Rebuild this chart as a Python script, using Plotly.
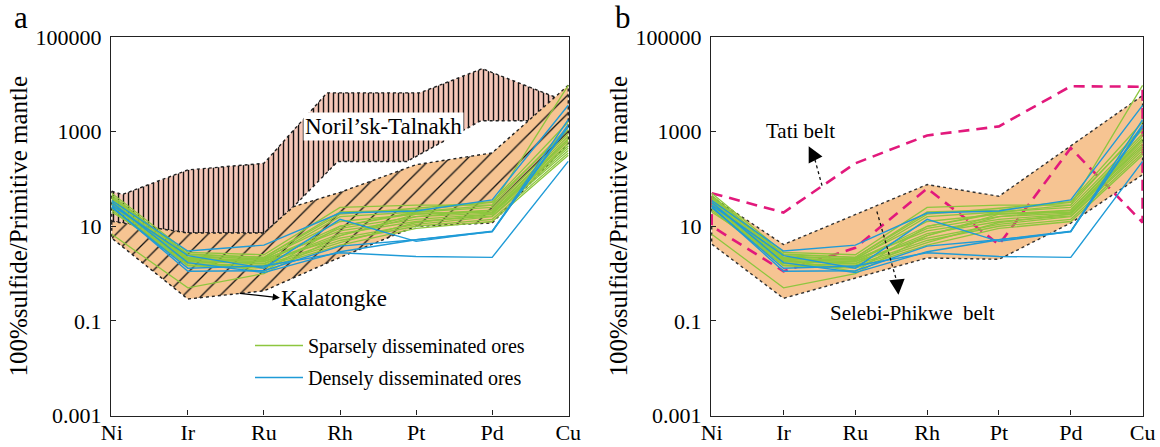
import math
import plotly.graph_objects as go

# ---------------- data ----------------
elements = ["Ni", "Ir", "Ru", "Rh", "Pt", "Pd", "Cu"]
elem_pos = [0, 1, 2, 3, 4, 5, 6]

# sparsely disseminated ores (100% sulfide / primitive mantle)
sparse_1 = [50, 2.8, 2.5, 25, 28, 28, 9500]
sparse_2 = [45, 2.5, 2.2, 20, 22, 32, 1100]
sparse_3 = [40, 2.4, 2.0, 16, 20, 25, 900]
sparse_4 = [38, 2.2, 2.1, 12.6, 18, 22, 700]
sparse_5 = [35, 2.1, 1.9, 10, 19, 20, 630]
sparse_6 = [33, 2.0, 1.8, 9, 16, 19, 560]
sparse_7 = [32, 2.0, 2.0, 8, 14, 18, 500]
sparse_8 = [30, 1.9, 1.65, 7, 12.6, 16.5, 450]
sparse_9 = [28, 1.8, 1.6, 6.3, 16, 22, 800]
sparse_10 = [27, 1.65, 1.8, 5.6, 11, 16, 400]
sparse_11 = [25, 1.6, 1.5, 5, 10, 14, 355]
sparse_12 = [24, 1.5, 1.4, 4.5, 12, 18, 700]
sparse_13 = [22, 1.45, 1.3, 4, 9, 12.6, 316]
sparse_14 = [20, 2.0, 1.1, 10, 20, 28, 1260]
sparse_15 = [6.8, 0.5, 1.0, 6.3, 18, 20, 500]
sparse_16 = [42, 2.6, 2.2, 18, 24, 33, 1600]
sparse_ores = [sparse_1, sparse_2, sparse_3, sparse_4, sparse_5, sparse_6, sparse_7, sparse_8,
               sparse_9, sparse_10, sparse_11, sparse_12, sparse_13, sparse_14, sparse_15, sparse_16]

# densely disseminated ores
dense_1 = [35, 3.0, 4.0, 19, 21, 36, 3600]
dense_2 = [28, 2.4, 1.3, 14, 4.8, 7.8, 1800]
dense_3 = [25, 1.3, 1.45, 2.75, 2.3, 2.2, 235]
dense_4 = [26, 1.12, 1.15, 3.8, 5.2, 7.9, 1260]
dense_5 = [32, 1.7, 1.05, 2.9, 5.2, 7.6, 1400]
dense_ores = [dense_1, dense_2, dense_3, dense_4, dense_5]

# reference fields (closed outlines; x = position along the element axis)
norilsk_x = [0, 0.14, 1, 2, 2.83, 4.05, 4.87, 5.92, 6, 6, 4.85, 3.88, 2.97, 2.39, 2, 1, 0, 0]
norilsk_y = [55, 47, 155, 214, 6600, 6600, 21400, 4700, 4700, 1700, 1700, 234, 234, 26, 7.2, 7.2, 12.7, 55]

kalatongke_x = [0, 1, 2, 2.39, 3, 4, 5, 6, 6, 5, 4, 3, 2, 1, 0, 0]
kalatongke_y = [12.7, 7.2, 7.2, 26, 52, 200, 355, 9500, 560, 11.7, 10, 2.2, 0.43, 0.29, 5.6, 12.7]

selebi_x = [0, 1, 3, 4, 5, 6, 6, 5, 4, 3, 1, 0, 0]
selebi_y = [42, 4.1, 76, 43, 500, 5800, 123, 11.7, 2.0, 2.14, 0.30, 4.2, 42]

tati_x = [0, 1, 2, 3, 4, 5, 6, 6, 5, 4, 3, 2, 1, 0, 0]
tati_y = [50, 19.5, 214, 830, 1290, 9100, 8900, 12, 450, 4.1, 63, 3.5, 1.12, 10, 50]

y_tickvals = [0.001, 0.1, 10, 1000, 100000]
y_ticktext = ["0.001", "0.1", "10", "1000", "100000"]

# annotation arrows (x position, value)
tati_arrow_tail = (1.536, 72)
tati_arrow_neck = (1.43, 280)
tati_arrow_tip = (1.35, 490)
selebi_arrow_tail = (2.30, 20.5)
selebi_arrow_neck = (2.585, 0.62)
selebi_arrow_tip = (2.60, 0.355)

# ---------------- styles ----------------
FONT = 'Times New Roman, "Liberation Serif", serif'
GREEN = "#8DC63F"
BLUE = "#1F9BD7"
MAGENTA = "#E2197C"
PINK = "#F6C8B9"
ORANGE = "#F6C492"

fig = go.Figure()


def add_field(x, y, xa, ya, bg, shape, size, solidity):
    fig.add_trace(go.Scatter(
        x=x, y=y, xaxis=xa, yaxis=ya, mode="lines", fill="toself",
        fillcolor=bg,
        fillpattern=dict(shape=shape, bgcolor=bg, fgcolor="#111", size=size,
                         solidity=solidity, fillmode="replace"),
        line=dict(color="#222", width=1.4, dash="dot"),
        hoverinfo="skip", showlegend=False))


# panel a fields
add_field(norilsk_x, norilsk_y, "x", "y", PINK, "|", 5, 0.28)
add_field(kalatongke_x, kalatongke_y, "x", "y", ORANGE, "/", 13, 0.1)

# panel b fields
fig.add_trace(go.Scatter(
    x=selebi_x, y=selebi_y, xaxis="x2", yaxis="y2", mode="lines", fill="toself",
    fillcolor=ORANGE, line=dict(color="#333", width=1.4, dash="dot"),
    hoverinfo="skip", showlegend=False))
fig.add_trace(go.Scatter(
    x=tati_x, y=tati_y, xaxis="x2", yaxis="y2", mode="lines",
    line=dict(color=MAGENTA, width=2.6, dash="11px,7px"),
    hoverinfo="skip", showlegend=False))

# sample lines in both panels
for xa, ya, leg in (("x", "y", True), ("x2", "y2", False)):
    for i, s in enumerate(sparse_ores):
        fig.add_trace(go.Scatter(
            x=elem_pos, y=s, xaxis=xa, yaxis=ya, mode="lines",
            line=dict(color=GREEN, width=1.3),
            name="Sparsely disseminated ores", legendgroup="sparse",
            showlegend=(leg and i == 0)))
    for i, s in enumerate(dense_ores):
        fig.add_trace(go.Scatter(
            x=elem_pos, y=s, xaxis=xa, yaxis=ya, mode="lines",
            line=dict(color=BLUE, width=1.4),
            name="Densely disseminated ores", legendgroup="dense",
            showlegend=(leg and i == 0)))

# dotted arrow shafts (panel b)
for tail, neck in ((tati_arrow_tail, tati_arrow_neck), (selebi_arrow_tail, selebi_arrow_neck)):
    fig.add_trace(go.Scatter(x=[tail[0], neck[0]], y=[tail[1], neck[1]], xaxis="x2", yaxis="y2",
                             mode="lines", line=dict(color="#111", width=1.3, dash="dot"),
                             hoverinfo="skip", showlegend=False))

axis_common = dict(showline=True, linecolor="#222", linewidth=1.3, mirror=True,
                   ticks="inside", ticklen=5, tickcolor="#222", tickwidth=1.1,
                   showgrid=False, zeroline=False, automargin=False)

xa_common = dict(axis_common, range=[-0.01, 6.01], tickvals=elem_pos, ticktext=elements,
                 tickfont=dict(family=FONT, size=22, color="black"), ticklabelstandoff=-3,
                 ticklabeloverflow="allow")
ya_common = dict(axis_common, type="log", range=[-3, 5], tickvals=y_tickvals,
                 ticktext=y_ticktext, tickfont=dict(family=FONT, size=22, color="black"),
                 ticklabelstandoff=4,
                 title=dict(text="100%sulfide/Primitive mantle",
                            font=dict(family=FONT, size=25, color="black"), standoff=0))

Y_DOM = [1 - 415.5 / 447, 1 - 37 / 447]
fig.update_layout(
    template="none",
    width=1160, height=447, margin=dict(l=0, r=0, t=0, b=0, pad=0, autoexpand=False),
    paper_bgcolor="white", plot_bgcolor="white",
    xaxis=dict(xa_common, domain=[111 / 1160, 569 / 1160], anchor="y"),
    yaxis=dict(ya_common, domain=Y_DOM, anchor="x"),
    xaxis2=dict(xa_common, domain=[711 / 1160, 1143.3 / 1160], anchor="y2"),
    yaxis2=dict(ya_common, domain=Y_DOM, anchor="x2"),
    showlegend=True,
    legend=dict(x=250 / 1160, y=1 - 326 / 447, xanchor="left", yanchor="top",
                bgcolor="rgba(0,0,0,0)", font=dict(family=FONT, size=20, color="black"),
                tracegroupgap=3, itemwidth=48),
    font=dict(family=FONT, color="black"),
)

annotations = [
    dict(text="a", x=21 / 1160, y=1 - 18 / 447, xref="paper", yref="paper",
         xanchor="center", yanchor="middle",
         showarrow=False, font=dict(family=FONT, size=31, color="black")),
    dict(text="b", x=623 / 1160, y=1 - 18 / 447, xref="paper", yref="paper",
         xanchor="center", yanchor="middle",
         showarrow=False, font=dict(family=FONT, size=31, color="black")),
    dict(text="Noril\u2019sk-Talnakh", x=3.567, y=3.11, xref="x", yref="y",
         showarrow=False, bgcolor="white", borderpad=1,
         font=dict(family=FONT, size=23, color="black")),
    dict(text="Kalatongke", x=2.2, y=-0.52, xref="x", yref="y", xanchor="left",
         showarrow=False, font=dict(family=FONT, size=23, color="black")),
    dict(text="", x=2.21, y=-0.513, xref="x", yref="y", ax=1.664, ay=-0.414,
         axref="x", ayref="y", showarrow=True, arrowhead=2, arrowsize=1.2,
         arrowwidth=1.2, arrowcolor="black"),
    dict(text="Tati belt", x=1.235, y=3.01, xref="x2", yref="y2",
         showarrow=False, font=dict(family=FONT, size=21, color="black")),
    dict(text="Selebi-Phikwe&nbsp;&nbsp;belt", x=2.79, y=-0.84, xref="x2", yref="y2",
         showarrow=False, font=dict(family=FONT, size=21, color="black")),
]
for neck, tip in ((tati_arrow_neck, tati_arrow_tip), (selebi_arrow_neck, selebi_arrow_tip)):
    annotations.append(dict(text="", x=tip[0], y=math.log10(tip[1]), xref="x2", yref="y2",
                            ax=neck[0], ay=math.log10(neck[1]), axref="x2", ayref="y2",
                            showarrow=True, arrowhead=2, arrowsize=2.2, arrowwidth=1.4,
                            arrowcolor="black"))
fig.update_layout(annotations=annotations)

# remove the default page margin so the figure fills the window exactly; hide the modebar
fig.write_html("out.html", config={"displayModeBar": False},
               post_script="document.body.style.margin='0px';")
